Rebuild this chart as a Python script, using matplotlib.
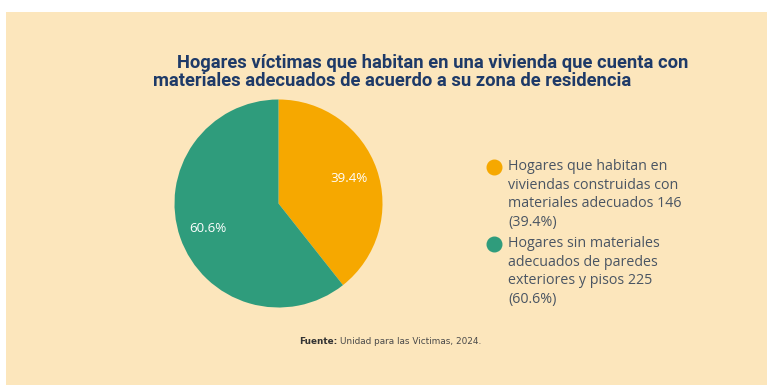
import matplotlib
matplotlib.use("Agg")
import matplotlib.pyplot as plt
from matplotlib.patches import Rectangle
from matplotlib.lines import Line2D

# Hogares víctimas según materiales de la vivienda
categorias = [
    "Hogares que habitan en\nviviendas construidas con\nmateriales adecuados",
    "Hogares sin materiales\nadecuados de paredes\nexteriores y pisos",
]
hogares = [146, 225]
colores = ["#F6A800", "#2F9C7C"]

titulo = ("Hogares víctimas que habitan en una vivienda que cuenta con\n"
          "materiales adecuados de acuerdo a su zona de residencia")
fuente = "Unidad para las Victimas, 2024."

W, H = 767, 385
fig = plt.figure(figsize=(W / 100, H / 100), dpi=100)
fig.patch.set_facecolor("white")

# fondo beige
fig.patches.append(Rectangle((6 / W, 0), 1 - 6 / W, 1 - 12 / H,
                             transform=fig.transFigure, facecolor="#FCE6BC",
                             edgecolor="none", zorder=-1))

# torta
cx, cy, r = 278.5, 203.5, 104
ax = fig.add_axes([(cx - r) / W, (H - cy - r) / H, 2 * r / W, 2 * r / H])
ax.set_zorder(2)
ax.set_facecolor("none")
total = sum(hogares)
wedges, _, autotexts = ax.pie(
    hogares, colors=colores, startangle=90, counterclock=False,
    autopct="%.1f%%", pctdistance=0.72, radius=1,
    wedgeprops=dict(linewidth=0),
    textprops=dict(color="white", fontsize=9.6, fontweight="medium",
                   family="Open Sans"))
ax.set_xlim(-1, 1)
ax.set_ylim(-1, 1)
ax.set_aspect("equal")
ax.axis("off")

# título
linea1, linea2 = titulo.split("\n")
fig.text(433 / W, 1 - 63 / H, linea1, ha="center", va="center",
         fontsize=13.2, fontweight="bold", color="#1E3A68", family="Roboto")
fig.text(392 / W, 1 - 81 / H, linea2, ha="center", va="center",
         fontsize=13.2, fontweight="bold", color="#1E3A68", family="Roboto")

# leyenda
ytop = [167, 244]
for cat, n, col, y in zip(categorias, hogares, colores, ytop):
    pct = 100 * n / total
    texto = f"{cat} {n}\n({pct:.1f}%)"
    fig.add_artist(Line2D([494 / W], [1 - y / H], marker="o", markersize=10.5,
                          color=col, transform=fig.transFigure))
    fig.text(508 / W, 1 - (y - 8) / H, texto, ha="left", va="top",
             fontsize=10.3, color="#4A5563", family="Open Sans", linespacing=1.32)

# fuente
etiqueta = fig.text(299 / W, 1 - 342 / H, "Fuente:", ha="left", va="center",
                    fontsize=6.4, fontweight="bold", color="#333333",
                    family="DejaVu Sans")
bb = etiqueta.get_window_extent(renderer=fig.canvas.get_renderer())
fig.text((bb.x1 + 3) / W, 1 - 342 / H, fuente, ha="left", va="center",
         fontsize=6.4, color="#4A4A4A", family="DejaVu Sans")

fig.savefig("out.png", dpi=100, facecolor=fig.get_facecolor())
